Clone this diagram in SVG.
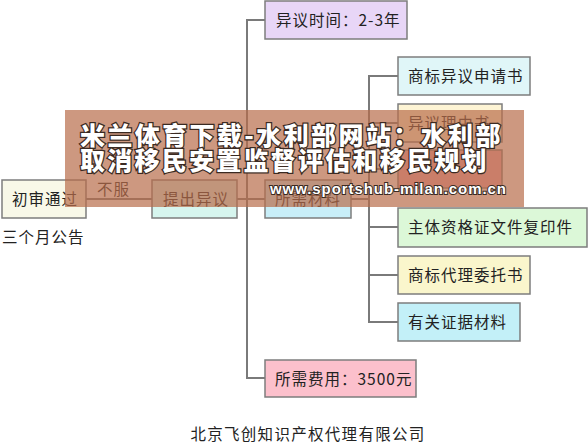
<svg xmlns="http://www.w3.org/2000/svg" width="588" height="443" viewBox="0 0 588 443">
<style>
.box{stroke:#7d7d7d;stroke-width:1.5}
.t{font-family:"Noto Sans CJK SC","Noto Sans",sans-serif;font-size:15.5px;fill:#222;letter-spacing:1px}
.c{fill:none;stroke:#7a7a7a;stroke-width:2}
.bn{font-family:"Noto Sans CJK SC",sans-serif;font-weight:900;font-size:25px;fill:#fff;stroke:#3a2a22;stroke-width:2.5;paint-order:stroke;letter-spacing:1.5px}
.url{font-family:"Liberation Sans",Arial,sans-serif;font-weight:bold;font-size:15px;fill:#fff;stroke:#3a2a22;stroke-width:2;paint-order:stroke}
</style>
<rect width="588" height="443" fill="#fff"/>
<g id="connectors">
<path class="c" d="M265 20H247V378H265"/>
<path class="c" d="M86 199H152"/>
<path class="c" d="M237 199H265"/>
<path class="c" d="M351 199H369"/>
<path class="c" d="M398 76H369V322H398"/>
<path class="c" d="M369 123H398"/>
<path class="c" d="M369 169H398"/>
<path class="c" d="M369 227H398"/>
<path class="c" d="M369 275H398"/>
<text class="t" x="97" y="195">不服</text>
</g>
<g id="n-time"><rect class="box" x="265" y="1" width="142" height="38" fill="#e8d6f7"/><text class="t" x="276" y="26">异议时间：2-3年</text></g>
<g id="n-first"><rect class="box" x="2" y="180" width="84" height="38" fill="#f8f8e8"/><text class="t" x="12" y="205">初审通过</text></g>
<g id="n-notice"><text class="t" x="2" y="243">三个月公告</text></g>
<g id="n-raise"><rect class="box" x="152" y="180" width="85" height="38" fill="#d6f5ee"/><text class="t" x="163" y="205">提出异议</text></g>
<g id="n-materials"><rect class="box" x="265" y="180" width="86" height="38" fill="#c8eef8"/><text class="t" x="275" y="205">所需材料</text></g>
<g id="n-fee"><rect class="box" x="265" y="360" width="151" height="37" fill="#fcc0cc"/><text class="t" x="275" y="385">所需费用：3500元</text></g>
<g id="n-app"><rect class="box" x="398" y="57" width="132" height="38" fill="#e0f6f8"/><text class="t" x="408" y="82">商标异议申请书</text></g>
<g id="n-reason"><rect class="box" x="398" y="104" width="104" height="38" fill="#fdf4d4"/><text class="t" x="408" y="129">异议理由书</text></g>
<g id="n-pink"><rect class="box" x="398" y="150" width="104" height="38" fill="#f4a7b3"/></g>
<g id="n-subject"><rect class="box" x="398" y="208" width="189" height="39" fill="#dcf8d8"/><text class="t" x="408" y="233">主体资格证文件复印件</text></g>
<g id="n-agent"><rect class="box" x="398" y="256" width="132" height="38" fill="#faf6cc"/><text class="t" x="408" y="281">商标代理委托书</text></g>
<g id="n-evidence"><rect class="box" x="398" y="303" width="122" height="38" fill="#c3f0f8"/><text class="t" x="408" y="328">有关证据材料</text></g>
<g id="footer"><text class="t" x="308" y="440" text-anchor="middle" style="letter-spacing:1.3px">北京飞创知识产权代理有限公司</text></g>
<g id="banner">
<rect x="65" y="110" width="459" height="97" fill="#b86c4a" opacity="0.7"/>
<text class="bn" x="80" y="145" textLength="422">米兰体育下载-水利部网站：水利部</text>
<text class="bn" x="80" y="170" textLength="408">取消移民安置监督评估和移民规划</text>
<text class="url" x="270" y="194" textLength="236">www.sportshub-milan.com.cn</text>
</g>
</svg>
